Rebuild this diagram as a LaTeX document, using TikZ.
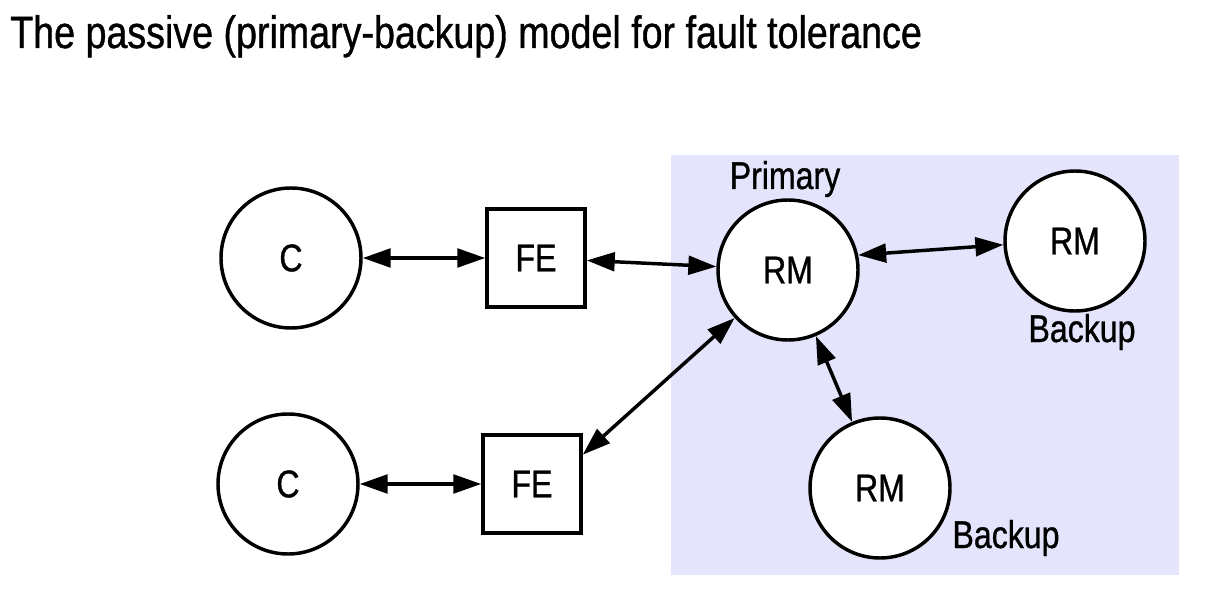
\documentclass[tikz,border=0pt]{standalone}
\usepackage{fontspec}
\setmainfont[FakeStretch=0.83,FakeBold=0.8]{Liberation Sans}
\usetikzlibrary{arrows.meta}
\definecolor{shadebg}{RGB}{228,228,252}
\begin{document}
\begin{tikzpicture}[x=0.75pt,y=-0.75pt,
  lbl/.style={font=\fontsize{29}{32}\selectfont},
  circ/.style={circle,draw,line width=2.6pt,fill=white,minimum size=105pt,inner sep=0pt,lbl},
  box/.style={rectangle,draw,line width=2.6pt,fill=white,minimum size=73.5pt,inner sep=0pt,lbl},
  link/.style={line width=2.6pt,{Triangle[length=21pt,width=14pt]}-{Triangle[length=21pt,width=14pt]}},
  tag/.style={lbl,inner sep=0pt,anchor=base}]
\useasboundingbox (0,0) rectangle (1208,610);
\fill[shadebg] (671,155) rectangle (1179,575);
\node[anchor=base west,inner sep=0pt,font=\fontsize{34}{40}\selectfont] (title) at (10,48) {The passive (primary-backup) model for fault tolerance};
\node[circ] (c1) at (291,258) {C};
\node[box] (fe1) at (536,258) {FE};
\node[circ] (c2) at (288,484) {C};
\node[box] (fe2) at (532,484) {FE};
\node[circ] (rmp) at (788,270) {RM};
\node[circ] (rmr) at (1075,241) {RM};
\node[circ] (rmb) at (880,488) {RM};
\node[tag] (lp) at (785,189) {Primary};
\node[tag] (lr) at (1082,342) {Backup};
\node[tag] (lb) at (1006,548) {Backup};
\draw[link] (c1) -- (fe1);
\draw[link] (fe1) -- (rmp);
\draw[link] (c2) -- (fe2);
\draw[link] (fe2.30) -- (rmp);
\draw[link] (rmp.12) -- (rmr.183);
\draw[link] (rmp) -- (rmb);
\end{tikzpicture}
\end{document}
